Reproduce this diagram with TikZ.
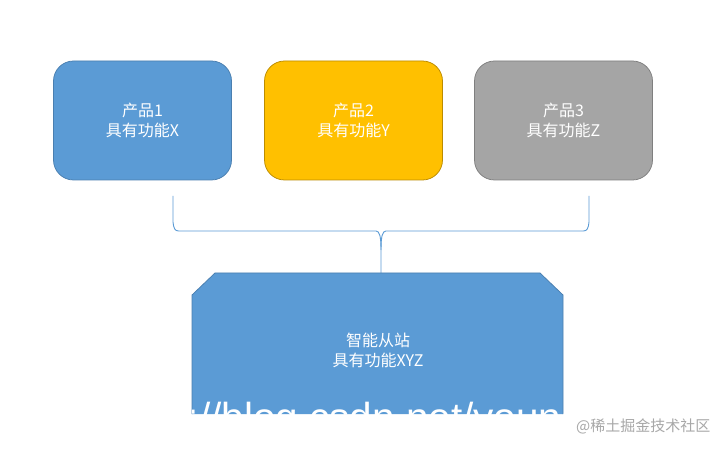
\documentclass[tikz,border=0pt]{standalone}
\usepackage{fontspec}
\setmainfont{Noto Sans CJK SC}
\newfontfamily\wmfont{Liberation Sans}
\definecolor{cblue}{HTML}{5B9BD5}
\definecolor{cblueb}{HTML}{4A7FB0}
\definecolor{cgold}{HTML}{FFC000}
\definecolor{cgoldb}{HTML}{BC8C00}
\definecolor{cgrey}{HTML}{A5A5A5}
\definecolor{cgreyb}{HTML}{7F7F7F}
\definecolor{cwm}{HTML}{A8A8A8}
\begin{document}
\begin{tikzpicture}[x=1pt,y=-1pt,
  prod/.style={rectangle, rounded corners=20pt, minimum width=178pt, minimum height=119pt,
    line width=0.75pt, align=center, text=white, font=\fontsize{16}{20}\selectfont},
  bracepath/.style={draw=cblue, line width=0.9pt},
  hubtext/.style={align=center, text=white, font=\fontsize{16}{20}\selectfont}]
\useasboundingbox (0,0) rectangle (726,449);
\fill[white] (0,0) rectangle (726,449);
\node[prod, fill=cblue, draw=cblueb] (p1) at (142.5,120.5) {产品1\\具有功能X};
\node[prod, fill=cgold, draw=cgoldb] (p2) at (353.5,120.5) {产品2\\具有功能Y};
\node[prod, fill=cgrey, draw=cgreyb] (p3) at (563.5,120.5) {产品3\\具有功能Z};
% brace
\coordinate (bl) at (173,196);
\coordinate (br) at (589,196);
\coordinate (bt) at (381,273);
\draw[bracepath] (bl) -- (173,222) .. controls (173.5,228) and (175,231) .. (178.5,231)
  -- (376,231) .. controls (379.5,231) and (381,236) .. (381,250) -- (bt);
\draw[bracepath] (381,250) .. controls (381,236) and (382.5,231) .. (386,231)
  -- (583.5,231) .. controls (587,231) and (588.5,228) .. (589,222) -- (br);
% hub shape
\fill[cblue] (192,295) -- (215,273) -- (540,273) -- (563,295) -- (563,414) -- (192,414) -- cycle;
\draw[cblueb, line width=0.75pt] (192,414) -- (192,295) -- (215,273) -- (540,273) -- (563,295) -- (563,414);
\node[hubtext] (hub) at (378,350) {智能从站\\具有功能XYZ};
\begin{scope}
\clip (192,295) -- (215,273) -- (540,273) -- (563,295) -- (563,414) -- (192,414) -- cycle;
\node[anchor=base west, inner sep=0pt, text=white, font=\wmfont\fontsize{40.5}{42}\selectfont] (wm) at (120,431.5) {http://blog.csdn.net/young};
\end{scope}
\node[anchor=west, inner sep=0pt, text=cwm, font=\fontsize{15}{18}\selectfont] (jj) at (576,426) {@稀土掘金技术社区};
\end{tikzpicture}
\end{document}
